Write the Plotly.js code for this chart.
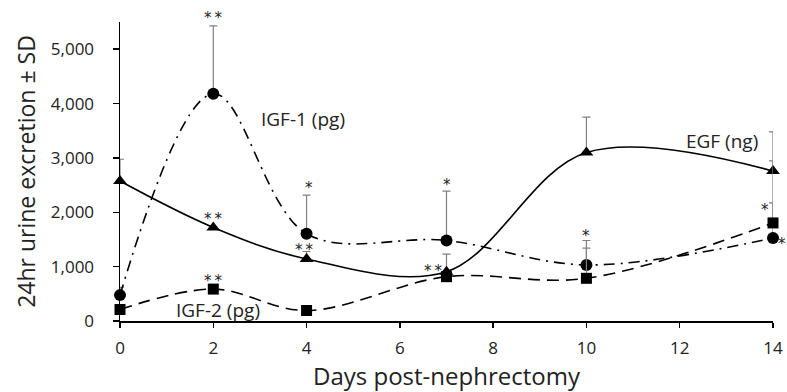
<!DOCTYPE html>
<html>
<head>
<meta charset="utf-8">
<script src="https://cdn.plot.ly/plotly-3.0.1.min.js"></script>
<style>html,body{margin:0;padding:0;background:#fff;}#chart{width:787px;height:392px;}</style>
</head>
<body>
<div id="chart"></div>
<script>
// Days post-nephrectomy
const days = [0, 2, 4, 7, 10, 14];

// EGF (ng)
const egf = [2575, 1722, 1142, 907, 3100, 2760];
const egfSD = [400, 0, 136, 323, 650, 720];

// IGF-1 (pg)
const igf1 = [476, 4180, 1605, 1482, 1031, 1526];
const igf1SD = [144, 1250, 710, 908, 450, 1420];

// IGF-2 (pg)
const igf2 = [211, 587, 193, 815, 785, 1804];
const igf2SD = [0, 0, 0, 0, 555, 370];

// Series labels
const seriesLabels = ["EGF (ng)", "IGF-1 (pg)", "IGF-2 (pg)"];
const labelX = [12.9, 3.93, 2.1];
const labelY = [3310, 3715, 200];

// Significance marks
const sigText = ["**", "**", "**", "*", "**", "*", "**", "*", "*", "*"];
const sigX = [2, 2, 2, 4.05, 3.95, 7, 6.7, 10, 13.83, 14.2];
const sigY = [5640, 1957, 810, 2513, 1383, 2575, 1000, 1630, 2120, 1494];

const yTicks = [0, 1000, 2000, 3000, 4000, 5000];
const xTicks = [0, 2, 4, 6, 8, 10, 12, 14];
const xMax = 14;
const yMax = 5500;

const FONT = "'Open Sans', sans-serif";
const STAR_FONT = "'DejaVu Sans', sans-serif";
const errStyle = {type: "data", symmetric: false, color: "#808080", thickness: 1.2, width: 4};

function errFor(sd) {
  return Object.assign({}, errStyle, {array: sd, arrayminus: sd.map(() => 0)});
}

const traces = [
  {
    x: days, y: egf, name: seriesLabels[0], mode: "lines+markers", cliponaxis: false,
    line: {color: "#000", width: 1.6, shape: "spline", smoothing: 1},
    marker: {symbol: "triangle-up", size: 12, color: "#000"},
    error_y: errFor(egfSD)
  },
  {
    x: days, y: igf1, name: seriesLabels[1], mode: "lines+markers", cliponaxis: false,
    line: {color: "#000", width: 1.6, shape: "spline", smoothing: 1, dash: "11px,6px,2px,6px"},
    marker: {symbol: "circle", size: 12, color: "#000"},
    error_y: errFor(igf1SD)
  },
  {
    x: days, y: igf2, name: seriesLabels[2], mode: "lines+markers", cliponaxis: false,
    line: {color: "#000", width: 1.6, shape: "spline", smoothing: 1, dash: "12px,7px"},
    marker: {symbol: "square", size: 11, color: "#000"},
    error_y: errFor(igf2SD)
  }
];

const annotations = [];
for (let i = 0; i < seriesLabels.length; i++) {
  annotations.push({
    x: labelX[i], y: labelY[i], xref: "x", yref: "y", text: seriesLabels[i],
    showarrow: false, font: {family: FONT, size: 19, color: "#222"}, xanchor: "center", yanchor: "middle"
  });
}
for (let i = 0; i < sigText.length; i++) {
  const outY = sigY[i] > yMax;
  const outX = sigX[i] > xMax;
  annotations.push({
    x: outX ? sigX[i] / xMax : sigX[i], xref: outX ? "x domain" : "x",
    y: outY ? sigY[i] / yMax : sigY[i], yref: outY ? "y domain" : "y",
    text: sigText[i].split("").join("\u2009"),
    showarrow: false, font: {family: STAR_FONT, size: 15, color: "#222"},
    xanchor: "center", yanchor: "middle", yshift: -4
  });
}

const layout = {
  width: 787, height: 392,
  margin: {l: 120, r: 14, t: 22, b: 71, pad: 0},
  paper_bgcolor: "#fff", plot_bgcolor: "#fff",
  showlegend: false,
  font: {family: FONT, size: 17, color: "#222"},
  xaxis: {
    range: [0, xMax], tickvals: xTicks, ticktext: xTicks.map(String),
    showgrid: false, zeroline: false, showline: true, linecolor: "#000", linewidth: 1.5,
    ticks: "outside", ticklen: 5, tickwidth: 1.5, tickcolor: "#000",
    ticklabelstandoff: 6,
    tickfont: {family: FONT, size: 17, color: "#222"},
    title: {text: "Days post-nephrectomy", font: {family: FONT, size: 24, color: "#222"}, standoff: 3}
  },
  yaxis: {
    range: [0, yMax], tickvals: yTicks, ticktext: yTicks.map(v => v.toLocaleString("en-US")),
    showgrid: false, zeroline: false, showline: true, linecolor: "#000", linewidth: 1.5,
    ticks: "outside", ticklen: 6, tickwidth: 1.5, tickcolor: "#000",
    ticklabelstandoff: 15,
    tickfont: {family: FONT, size: 17, color: "#222"},
    title: {text: "24hr urine excretion ± SD", font: {family: FONT, size: 23, color: "#222"}, standoff: 9}
  },
  annotations: annotations
};

Plotly.newPlot("chart", traces, layout, {staticPlot: true, displayModeBar: false});
</script>
</body>
</html>
